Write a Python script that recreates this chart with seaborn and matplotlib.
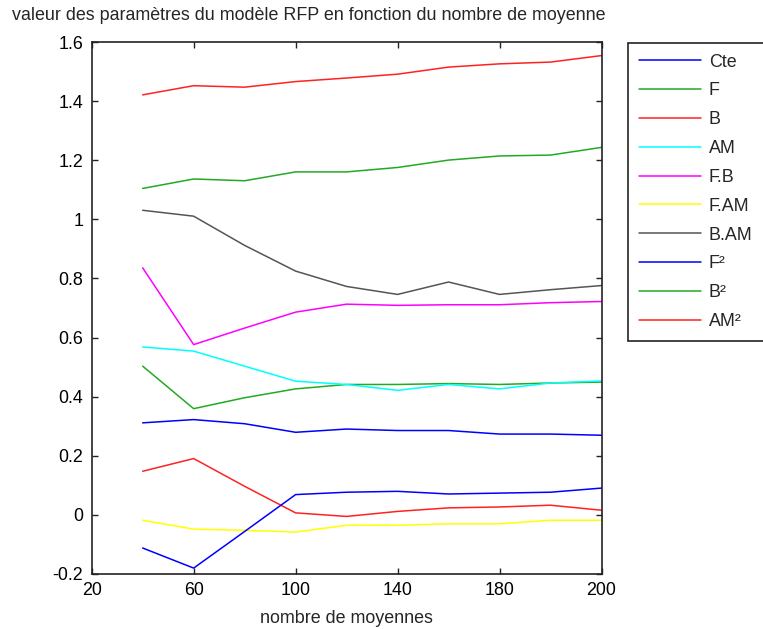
import pandas as pd
import numpy as np
import seaborn as sns
import matplotlib.pyplot as plt
import matplotlib.ticker as ticker

# Nombre de moyennes (abscisses) et etiquettes de graduation telles qu'affichees
moyennes = [20, 40, 60, 80, 100, 120, 140, 160, 180, 200]
pos_graduations = [0, 40, 80, 120, 160, 200]
etiquettes_x = ['20', '60', '100', '140', '180', '200']

# Valeurs des parametres
cte = [0.311, 0.322, 0.308, 0.279, 0.290, 0.285, 0.285, 0.273, 0.273, 0.269]
f = [0.503, 0.359, 0.396, 0.426, 0.441, 0.441, 0.444, 0.441, 0.446, 0.449]
b = [0.147, 0.190, 0.096, 0.006, -0.006, 0.011, 0.023, 0.026, 0.032, 0.015]
am = [0.568, 0.554, 0.503, 0.452, 0.441, 0.421, 0.441, 0.426, 0.446, 0.453]
fb = [0.836, 0.576, 0.632, 0.686, 0.713, 0.709, 0.711, 0.711, 0.718, 0.722]
fam = [-0.019, -0.049, -0.053, -0.059, -0.036, -0.036, -0.031, -0.031, -0.019, -0.019]
bam = [1.031, 1.011, 0.912, 0.825, 0.773, 0.746, 0.788, 0.746, 0.762, 0.776]
f2 = [-0.113, -0.181, -0.057, 0.068, 0.076, 0.079, 0.070, 0.073, 0.076, 0.090]
b2 = [1.105, 1.137, 1.131, 1.161, 1.161, 1.176, 1.201, 1.215, 1.218, 1.244]
am2 = [1.422, 1.453, 1.448, 1.467, 1.479, 1.492, 1.516, 1.527, 1.533, 1.555]

noms = ['Cte', 'F', 'B', 'AM', 'F.B', 'F.AM', 'B.AM', 'F²', 'B²', 'AM²']
series = [cte, f, b, am, fb, fam, bam, f2, b2, am2]
couleurs = ['#0000ff', '#22aa22', '#ff2222', '#00ffff', '#ff00ff',
            '#ffff00', '#555555', '#0000ff', '#22aa22', '#ff2222']

# Construction du tableau long pour seaborn
datos = pd.DataFrame({
    'moyennes': np.tile(moyennes, len(noms)),
    'valeur': np.concatenate(series),
    'parametre': np.repeat(noms, len(moyennes)),
})

sns.set_theme(style='ticks')
plt.rcParams['font.family'] = ['Liberation Sans', 'DejaVu Sans']
taille = 12.9

fig = plt.figure(figsize=(7.63, 6.29), dpi=100)
ax = fig.add_axes([91.7 / 763, 1 - 573.7 / 629, (601.5 - 91.7) / 763, (573.7 - 42.3) / 629])

sns.lineplot(data=datos, x='moyennes', y='valeur', hue='parametre',
             hue_order=noms, palette=dict(zip(noms, couleurs)),
             linewidth=1.1, ax=ax, legend=True)

ax.set_xlim(0, 200)
ax.set_ylim(-0.2, 1.6)
ax.set_xticks(pos_graduations)
ax.set_xticklabels(etiquettes_x)
ax.set_yticks(np.arange(-0.2, 1.61, 0.2))
ax.yaxis.set_major_formatter(ticker.FuncFormatter(lambda v, p: '%g' % round(v, 2)))
ax.tick_params(direction='in', length=4, width=1, top=True, right=True,
               labelsize=taille, colors='#222222', labelcolor='black', pad=6)
for s in ax.spines.values():
    s.set_visible(True)
    s.set_linewidth(1.2)
    s.set_color('#222222')

ax.set_xlabel('nombre de moyennes', fontsize=taille, labelpad=8)
ax.set_ylabel('')

fig.text(12 / 763, 1 - 15 / 629, 'valeur des paramètres du modèle RFP en fonction du nombre de moyenne',
         fontsize=taille, ha='left', va='center')

handles, labels = ax.get_legend_handles_labels()
ax.legend(handles, labels, loc='upper left', bbox_to_anchor=(627.5 / 763, 1 - 42.5 / 629),
          bbox_transform=fig.transFigure, borderaxespad=0, fontsize=taille,
          frameon=True, fancybox=False, edgecolor='#222222', framealpha=1,
          handlelength=3.46, handletextpad=0.45, borderpad=0.62, labelspacing=0.66)
ax.get_legend().get_frame().set_linewidth(1.2)

fig.savefig('out.png', dpi=100)
